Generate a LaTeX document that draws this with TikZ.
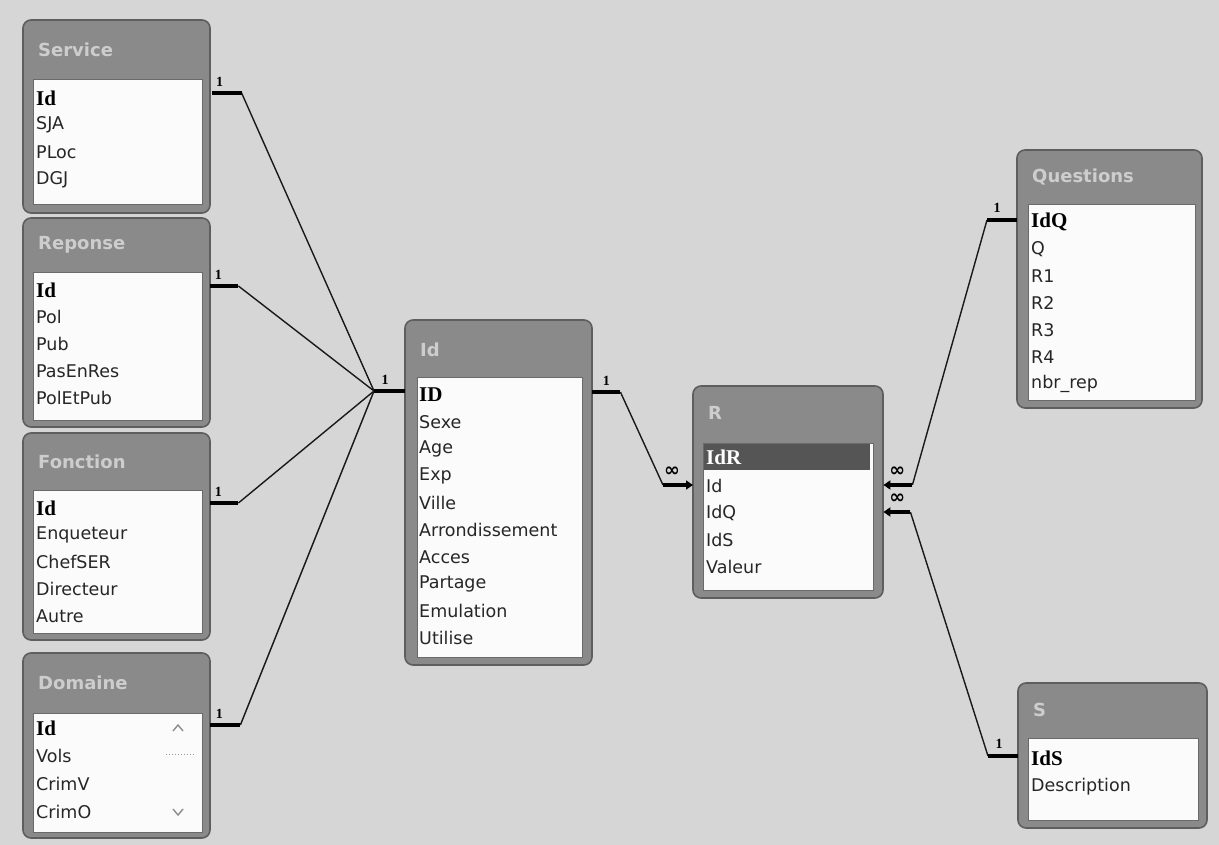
\documentclass[tikz,border=0pt]{standalone}
\usepackage{fontspec}
\setmainfont{DejaVu Sans}
\newfontfamily\keyfont{Liberation Serif}
\newfontfamily\titlefont{DejaVu Sans}
\usetikzlibrary{arrows.meta,calc}

\definecolor{bgcol}{HTML}{D6D6D6}
\definecolor{boxcol}{HTML}{8A8A8A}
\definecolor{boxedge}{HTML}{5E5E5E}
\definecolor{listcol}{HTML}{FBFBFB}
\definecolor{listedge}{HTML}{6A6A6A}
\definecolor{titlecol}{HTML}{CDCDCD}
\definecolor{selcol}{HTML}{555555}

\tikzset{
  tablebox/.style={draw=boxedge, line width=1.6pt, fill=boxcol, rounded corners=8pt},
  listarea/.style={draw=listedge, line width=1pt, fill=listcol},
  tabletitle/.style={anchor=west, inner sep=0pt, text=titlecol,
    font=\titlefont\bfseries\fontsize{18}{20}\selectfont},
  field/.style={anchor=west, inner sep=0pt, text=black!85,
    font=\fontsize{17.5}{20}\selectfont},
  keyfield/.style={anchor=west, inner sep=0pt, text=black,
    font=\keyfont\bfseries\fontsize{21}{22}\selectfont},
  stub/.style={line width=3.6pt, black},
  rel/.style={line width=1.4pt, black!90},
  onelabel/.style={inner sep=0pt, font=\keyfont\bfseries\fontsize{14}{14}\selectfont},
  manylabel/.style={inner sep=0pt, font=\bfseries\fontsize{19}{19}\selectfont},
  manyend/.style={line width=3.6pt, black, -{Triangle[length=7pt,width=9pt]}},
}

\begin{document}
\begin{tikzpicture}[x=1pt,y=-1pt]
\useasboundingbox (0,0) rectangle (1219,845);
\fill[bgcol] (0,0) rectangle (1219,845);

% ---------- Service ----------
\draw[tablebox] (23,20) rectangle (210,213);
\node[tablebox, draw=none, fill=none, inner sep=0pt, minimum width=187pt, minimum height=193pt, anchor=north west] (service) at (23,20) {};
\draw[listarea] (33,80) rectangle (202,205);
\node[tabletitle] (serviceT) at (38,50) {Service};
\node[keyfield] (serviceF1) at (36,98) {Id};
\node[field] (serviceF2) at (36,125) {SJA};
\node[field] (serviceF3) at (36,152) {PLoc};
\node[field] (serviceF4) at (36,180) {DGJ};

% ---------- Reponse ----------
\draw[tablebox] (23,218) rectangle (210,427);
\node[inner sep=0pt, minimum width=187pt, minimum height=209pt, anchor=north west] (reponse) at (23,218) {};
\draw[listarea] (33,273) rectangle (202,420);
\node[tabletitle] (reponseT) at (38,245) {Reponse};
\node[keyfield] (reponseF1) at (36,290) {Id};
\node[field] (reponseF2) at (36,317) {Pol};
\node[field] (reponseF3) at (36,344) {Pub};
\node[field] (reponseF4) at (36,371) {PasEnRes};
\node[field] (reponseF5) at (36,398) {PolEtPub};

% ---------- Fonction ----------
\draw[tablebox] (23,433) rectangle (210,640);
\node[inner sep=0pt, minimum width=187pt, minimum height=207pt, anchor=north west] (fonction) at (23,433) {};
\draw[listarea] (33,490) rectangle (202,633);
\node[tabletitle] (fonctionT) at (38,462) {Fonction};
\node[keyfield] (fonctionF1) at (36,508) {Id};
\node[field] (fonctionF2) at (36,535) {Enqueteur};
\node[field] (fonctionF3) at (36,562) {ChefSER};
\node[field] (fonctionF4) at (36,589) {Directeur};
\node[field] (fonctionF5) at (36,616) {Autre};

% ---------- Domaine ----------
\draw[tablebox] (23,653) rectangle (210,838);
\node[inner sep=0pt, minimum width=187pt, minimum height=185pt, anchor=north west] (domaine) at (23,653) {};
\draw[listarea] (33,713) rectangle (202,832);
\node[tabletitle] (domaineT) at (38,683) {Domaine};
\node[keyfield] (domaineF1) at (36,728) {Id};
\node[field] (domaineF2) at (36,756) {Vols};
\node[field] (domaineF3) at (36,784) {CrimV};
\node[field] (domaineF4) at (36,812) {CrimO};
% scroll bar of the field list
\draw[black!45, line width=1.4pt] (173,731) -- (178,725) -- (183,731);
\draw[black!45, line width=1.4pt] (173,809) -- (178,815) -- (183,809);
\draw[black!40, line width=1pt, dotted] (166,754) -- (194,754);

% ---------- Id ----------
\draw[tablebox] (405,320) rectangle (592,665);
\node[inner sep=0pt, minimum width=187pt, minimum height=345pt, anchor=north west] (idt) at (405,320) {};
\draw[listarea] (417,377) rectangle (582,657);
\node[tabletitle] (idtT) at (420,350) {Id};
\node[keyfield] (idtF1) at (419,395) {ID};
\node[field] (idtF2) at (419,422) {Sexe};
\node[field] (idtF3) at (419,449) {Age};
\node[field] (idtF4) at (419,476) {Exp};
\node[field] (idtF5) at (419,503) {Ville};
\node[field] (idtF6) at (419,530) {Arrondissement};
\node[field] (idtF7) at (419,557) {Acces};
\node[field] (idtF8) at (419,584) {Partage};
\node[field] (idtF9) at (419,611) {Emulation};
\node[field] (idtF10) at (419,638) {Utilise};

% ---------- R ----------
\draw[tablebox] (693,386) rectangle (883,598);
\node[inner sep=0pt, minimum width=190pt, minimum height=212pt, anchor=north west] (rt) at (693,386) {};
\draw[listarea] (703,443) rectangle (873,590);
\fill[selcol] (703.5,443.5) rectangle (870,470);
\node[tabletitle] (rtT) at (708,413) {R};
\node[keyfield, text=white] (rtF1) at (706,457) {IdR};
\node[field] (rtF2) at (706,486) {Id};
\node[field] (rtF3) at (706,513) {IdQ};
\node[field] (rtF4) at (706,540) {IdS};
\node[field] (rtF5) at (706,567) {Valeur};

% ---------- Questions ----------
\draw[tablebox] (1017,150) rectangle (1202,408);
\node[inner sep=0pt, minimum width=185pt, minimum height=258pt, anchor=north west] (quest) at (1017,150) {};
\draw[listarea] (1028,205) rectangle (1195,400);
\node[tabletitle] (questT) at (1032,177) {Questions};
\node[keyfield] (questF1) at (1031,222) {IdQ};
\node[field] (questF2) at (1031,249) {Q};
\node[field] (questF3) at (1031,276) {R1};
\node[field] (questF4) at (1031,303) {R2};
\node[field] (questF5) at (1031,330) {R3};
\node[field] (questF6) at (1031,357) {R4};
\node[field] (questF7) at (1031,384) {nbr\_rep};

% ---------- S ----------
\draw[tablebox] (1018,683) rectangle (1207,828);
\node[inner sep=0pt, minimum width=189pt, minimum height=145pt, anchor=north west] (st) at (1018,683) {};
\draw[listarea] (1028,738) rectangle (1198,820);
\node[tabletitle] (stT) at (1033,710) {S};
\node[keyfield] (stF1) at (1031,758) {IdS};
\node[field] (stF2) at (1031,787) {Description};

% ---------- relationship end points ----------
\coordinate (serviceE) at (service.north east |- 0,93);
\coordinate (reponseE) at (reponse.north east |- 0,286);
\coordinate (fonctionE) at (fonction.north east |- 0,503);
\coordinate (domaineE) at (domaine.north east |- 0,725);
\coordinate (idtW) at (idt.north west |- 0,391);
\coordinate (idtE) at (idt.north east |- 0,392);
\coordinate (rtW) at (rt.north west |- 0,485);
\coordinate (rtE1) at (rt.north east |- 0,485);
\coordinate (rtE2) at (rt.north east |- 0,512);
\coordinate (questW) at (quest.north west |- 0,220);
\coordinate (stW) at (st.north west |- 0,756);

\coordinate (serviceK) at ($(serviceE)+(30,0)$);
\coordinate (reponseK) at ($(reponseE)+(28,0)$);
\coordinate (fonctionK) at ($(fonctionE)+(28,0)$);
\coordinate (domaineK) at ($(domaineE)+(30,0)$);
\coordinate (hub) at ($(idtW)+(-31,0)$);
\coordinate (idtK) at ($(idtE)+(28,0)$);
\coordinate (rtWK) at ($(rtW)+(-30,0)$);
\coordinate (rtE1K) at ($(rtE1)+(29,0)$);
\coordinate (rtE2K) at ($(rtE2)+(27,0)$);
\coordinate (questK) at ($(questW)+(-30,0)$);
\coordinate (stK) at ($(stW)+(-30,0)$);

% thin connecting lines
\draw[rel] (serviceK) -- (hub);
\draw[rel] (reponseK) -- (hub);
\draw[rel] (fonctionK) -- (hub);
\draw[rel] (domaineK) -- (hub);
\draw[rel] (idtK) -- (rtWK);
\draw[rel] (rtE1K) -- (questK);
\draw[rel] (rtE2K) -- (stK);

% thick "one" ends
\draw[stub] (serviceE) -- (serviceK);
\draw[stub] (reponseE) -- (reponseK);
\draw[stub] (fonctionE) -- (fonctionK);
\draw[stub] (domaineE) -- (domaineK);
\draw[stub] (hub) -- (idtW);
\draw[stub] (idtE) -- (idtK);
\draw[stub] (questK) -- (questW);
\draw[stub] (stK) -- (stW);

% "many" ends with arrow heads
\draw[manyend] (rtWK) -- (rtW);
\draw[manyend] (rtE1K) -- (rtE1);
\draw[manyend] (rtE2K) -- (rtE2);

% cardinality labels
\node[onelabel] (l1) at ($(serviceE)+(8,-11)$) {1};
\node[onelabel] (l2) at ($(reponseE)+(8,-11)$) {1};
\node[onelabel] (l3) at ($(fonctionE)+(8,-11)$) {1};
\node[onelabel] (l4) at ($(domaineE)+(9,-11)$) {1};
\node[onelabel] (l5) at ($(hub)+(11,-11)$) {1};
\node[onelabel] (l6) at ($(idtE)+(14,-11)$) {1};
\node[onelabel] (l7) at ($(questW)+(-20,-12)$) {1};
\node[onelabel] (l8) at ($(stW)+(-19,-12)$) {1};
\node[manylabel] (m1) at ($(rtW)+(-21,-13)$) {∞};
\node[manylabel] (m2) at ($(rtE1)+(14,-13)$) {∞};
\node[manylabel] (m3) at ($(rtE2)+(14,-13)$) {∞};
\end{tikzpicture}
\end{document}
